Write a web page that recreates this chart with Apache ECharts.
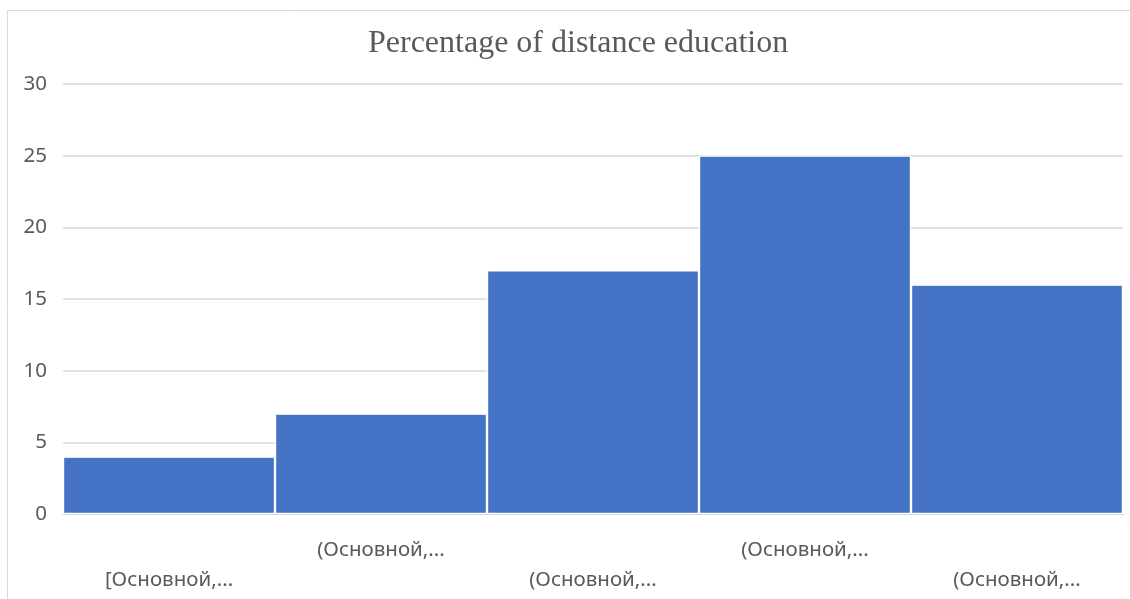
<!DOCTYPE html>
<html>
<head>
<meta charset="utf-8">
<script src="https://cdn.jsdelivr.net/npm/echarts@6/dist/echarts.min.js"></script>
<style>html,body{margin:0;padding:0;background:#fff;}#c{width:1130px;height:599px;}</style>
</head>
<body>
<div id="c"></div>
<script>
const categories = ['[Основной,...', '(Основной,...', '(Основной,...', '(Основной,...', '(Основной,...'];
const values = [4, 7, 17, 25, 16];
const titleText = 'Percentage of distance education';

const chart = echarts.init(document.getElementById('c'));
chart.setOption({
  animation: false,
  backgroundColor: '#ffffff',
  title: {
    text: titleText,
    left: 363,
    top: 23,
    textStyle: { fontFamily: 'Liberation Serif', fontWeight: 'normal', fontSize: 32, color: '#595959' }
  },
  graphic: [{
    type: 'rect',
    shape: { x: 7.5, y: 10.5, width: 1130, height: 600 },
    style: { fill: 'none', stroke: '#d9d9d9', lineWidth: 1 },
    silent: true
  }],
  grid: { left: 63, right: 7, top: 84, bottom: 85, containLabel: false },
  xAxis: {
    type: 'category',
    data: categories,
    axisTick: { show: false },
    axisLine: { lineStyle: { color: '#d9d9d9', width: 1 } },
    axisLabel: {
      interval: 0,
      margin: 21,
      color: '#595959',
      fontFamily: 'Noto Sans',
      fontSize: 20.5,
      lineHeight: 30,
      formatter: function (v, i) { return i % 2 === 0 ? '\n' + v : v; }
    }
  },
  yAxis: {
    type: 'value',
    min: 0, max: 30, interval: 5,
    axisLine: { show: false },
    axisTick: { show: false },
    splitLine: { lineStyle: { color: '#d9d9d9', width: 1.5 } },
    axisLabel: { color: '#595959', fontFamily: 'Noto Sans', fontSize: 20.5, margin: 16 }
  },
  series: [{
    type: 'bar',
    data: values,
    barCategoryGap: '0%',
    itemStyle: { color: '#4472C4', borderColor: '#ffffff', borderWidth: 1.2 }
  }]
});
</script>
</body>
</html>
